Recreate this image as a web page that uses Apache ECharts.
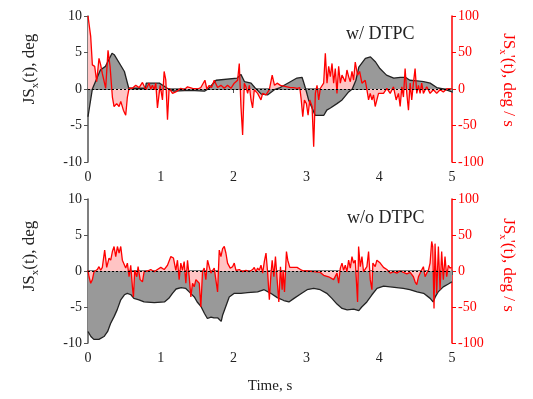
<!DOCTYPE html>
<html><head><meta charset="utf-8">
<script src="https://cdn.jsdelivr.net/npm/echarts@6/dist/echarts.min.js"></script>
<style>html,body{margin:0;padding:0;background:#fff}#c{width:533px;height:399px}</style>
</head><body><div id="c"></div>
<script>
// ---- Top panel (w/ DTPC) ----
const tTopJS = [0,0.06,0.17,0.24,0.33,0.36,0.5,0.56,0.79,0.8,0.98,1.0,1.09,1.18,1.4,1.6,1.65,1.76,2.05,2.1,2.15,2.24,2.29,2.38,2.47,2.56,2.64,2.78,2.87,2.94,2.96,2.99,3.03,3.12,3.24,3.26,3.28,3.33,3.42,3.49,3.53,3.58,3.63,3.68,3.72,3.81,3.88,3.95,4.01,4.1,4.2,4.29,4.36,4.42,4.52,4.61,4.7,4.79,4.88,5.0];
const topJS = [-3.8,0,2.6,3.1,4.9,4.7,2.4,0.1,0.1,0.8,0.8,0.6,0.1,-0.3,-0.2,-0.3,0,1.2,1.5,2.0,1.0,0.8,0.2,-0.7,-0.8,-0.1,0.2,1.0,1.5,1.6,1.0,0,-1.5,-3.6,-3.6,-3.8,-2.9,-2.6,-2.0,-1.5,-1.0,-0.4,0,1.2,3.0,4.2,4.4,3.7,2.8,1.9,1.5,1.6,1.6,1.2,1.1,1.0,0.8,0.2,0,-0.4];
const tTopRate = [0,0.037,0.06,0.092,0.119,0.151,0.174,0.197,0.243,0.275,0.303,0.335,0.358,0.394,0.427,0.45,0.486,0.518,0.541,0.564,0.61,0.656,0.702,0.748,0.794,0.839,0.862,0.885,0.908,0.931,0.954,0.991,1.023,1.046,1.069,1.092,1.115,1.161,1.206,1.275,1.321,1.367,1.436,1.505,1.55,1.606,1.633,1.665,1.697,1.734,1.78,1.826,1.872,1.917,1.963,2.009,2.055,2.078,2.101,2.124,2.147,2.17,2.193,2.216,2.239,2.261,2.284,2.33,2.376,2.399,2.445,2.491,2.53,2.562,2.598,2.644,2.689,2.735,2.781,2.826,2.872,2.909,2.927,2.95,2.973,3.0,3.023,3.046,3.078,3.1,3.123,3.146,3.169,3.192,3.237,3.26,3.283,3.306,3.329,3.352,3.374,3.397,3.42,3.443,3.466,3.489,3.534,3.557,3.58,3.603,3.626,3.648,3.671,3.703,3.731,3.763,3.808,3.831,3.854,3.877,3.9,3.922,3.945,3.968,3.991,4.014,4.059,4.105,4.151,4.196,4.233,4.265,4.288,4.311,4.333,4.356,4.379,4.402,4.425,4.447,4.47,4.493,4.516,4.539,4.562,4.584,4.607,4.653,4.699,4.744,4.79,4.836,4.881,4.927,4.995];
const topRate = [100,72,33,31,10,42,33,21,1,53,31,-11,-24,-20,-24,-17,-29,-36,-11,1,1,5,2,9,-1,8,0,5,-1,8,-26,5,-15,24,12,-42,1,-6,-4,1,-1,3,1,0,2,12,0,5,2,12,2,5,1,5,1,8,12,35,-24,-63,8,3,-6,5,-15,-26,-1,-6,-15,-6,-8,-1,19,5,8,5,4,3,2,2,1,2,-13,-38,-15,-20,-36,-15,-24,-79,-6,5,-15,1,8,49,8,31,17,35,8,28,-6,31,8,19,10,26,17,10,24,12,37,19,24,8,12,-1,-15,-6,-15,-8,-24,-15,-6,-4,-6,1,-6,3,-15,-6,-24,3,-11,28,-6,-29,8,-15,8,28,-6,5,-6,8,-6,3,-6,-1,-6,-1,-4,0,0];

// ---- Bottom panel (w/o DTPC) ----
const tBotJS = [0,0.04,0.08,0.15,0.22,0.27,0.31,0.36,0.4,0.45,0.5,0.54,0.59,0.63,0.7,0.77,0.91,1.05,1.11,1.16,1.21,1.28,1.34,1.39,1.46,1.5,1.55,1.6,1.64,1.69,1.73,1.78,1.83,1.85,1.89,1.94,2.01,2.1,2.19,2.33,2.42,2.51,2.6,2.69,2.76,2.83,2.92,3.01,3.1,3.19,3.28,3.35,3.42,3.49,3.56,3.65,3.72,3.76,3.83,3.9,3.97,4.06,4.15,4.24,4.33,4.42,4.52,4.61,4.7,4.74,4.77,4.81,4.88,4.95,5.0];
const botJS = [-8.4,-9.1,-9.5,-9.5,-9.1,-8.4,-7.3,-6.3,-5.4,-4.0,-3.3,-3.1,-3.3,-3.8,-4.0,-4.3,-4.4,-4.3,-3.8,-3.1,-2.5,-2.3,-2.4,-2.9,-3.6,-4.3,-4.9,-5.9,-6.6,-6.4,-6.5,-6.5,-7.0,-6.1,-5.0,-3.6,-3.1,-3.1,-3.0,-2.9,-2.6,-3.1,-3.7,-4.1,-4.3,-3.8,-3.2,-2.6,-2.4,-2.6,-3.1,-3.8,-4.6,-5.2,-5.4,-5.3,-5.5,-5.0,-4.3,-3.3,-2.4,-2.1,-2.2,-2.3,-2.4,-2.6,-2.9,-3.1,-3.8,-4.3,-3.6,-2.9,-2.2,-1.8,-1.5];
const tBotRate = [0,0.014,0.037,0.06,0.083,0.128,0.151,0.174,0.197,0.229,0.257,0.289,0.312,0.335,0.358,0.381,0.404,0.427,0.45,0.472,0.495,0.518,0.541,0.564,0.587,0.61,0.624,0.642,0.67,0.688,0.716,0.748,0.771,0.817,0.862,0.908,0.954,1.0,1.046,1.092,1.138,1.174,1.206,1.229,1.252,1.275,1.298,1.321,1.344,1.367,1.39,1.413,1.436,1.459,1.482,1.528,1.55,1.573,1.596,1.619,1.642,1.665,1.688,1.734,1.78,1.803,1.826,1.849,1.872,1.894,1.917,1.954,1.986,2.009,2.032,2.078,2.124,2.17,2.216,2.261,2.284,2.307,2.33,2.353,2.376,2.399,2.422,2.445,2.468,2.491,2.514,2.53,2.553,2.575,2.598,2.621,2.644,2.667,2.68,2.699,2.726,2.744,2.772,2.804,2.872,2.918,2.963,3.009,3.1,3.192,3.237,3.306,3.374,3.42,3.443,3.466,3.489,3.511,3.534,3.557,3.58,3.603,3.626,3.648,3.671,3.703,3.717,3.74,3.763,3.785,3.808,3.831,3.854,3.877,3.9,3.913,3.945,3.968,4.014,4.059,4.105,4.151,4.196,4.242,4.288,4.333,4.379,4.425,4.47,4.493,4.516,4.539,4.562,4.584,4.607,4.63,4.653,4.676,4.699,4.721,4.735,4.753,4.767,4.79,4.813,4.836,4.858,4.881,4.904,4.927,4.95,4.973,4.995];
const botRate = [1,-8,-17,-12,-1,2,6,1,5,29,5,18,15,27,34,20,34,25,34,15,13,4,11,-8,8,-22,-36,1,-8,6,-12,-15,-1,0,2,-1,2,5,2,8,20,18,1,15,-12,11,1,13,-17,15,-8,-36,-17,-22,-12,-17,-50,-1,4,-12,15,6,-3,4,-29,29,20,31,34,25,11,4,6,11,1,2,-1,1,-1,2,5,-1,4,1,8,-3,13,25,-3,-40,-3,15,-8,20,-12,-43,6,-26,1,-29,27,15,5,5,5,2,0,0,-1,-2,-6,-8,-12,-3,-17,4,11,1,8,-1,15,4,20,11,15,-43,34,6,20,-1,-3,6,27,-12,-26,11,6,15,11,5,2,-3,-1,-3,0,-2,-4,-2,-8,-15,-19,-8,-3,-1,6,-8,-3,1,11,41,34,-52,38,-31,34,-26,27,-12,20,-8,8,4,5];

const xTicks = [0,1,2,3,4,5];
const panelTitles = ['w/ DTPC', 'w/o DTPC'];

function pairs(t, v) { return t.map((x, i) => [x, v[i]]); }

const FONT = 'Liberation Serif';
const GRAY = '#999999', PINK = '#ffc4c4', RED = '#ff0000', DARK = '#222222', AXIS = '#555555';
const grids = [
  { left: 88, right: 81, top: 16, height: 146 },
  { left: 88, right: 81, top: 199, height: 144 }
];
const leftName = '{m|JS}{s|x}{m|(t), deg}';
const rightName = "{m|JS}{s|x}{m|'(t), deg / s}";
function richFor(color) {
  return {
    m: { fontFamily: FONT, fontSize: 17, color: color, lineHeight: 20, verticalAlign: 'middle' },
    s: { fontFamily: FONT, fontSize: 11, color: color, lineHeight: 20, padding: [10, 0, 0, 0], verticalAlign: 'middle' }
  };
}
function xAxis(i, withName) {
  return {
    type: 'value', gridIndex: i, min: 0, max: 5, interval: 1,
    axisLine: { lineStyle: { color: AXIS, width: 1.5 } },
    axisTick: { show: true, length: 4, lineStyle: { color: AXIS } },
    axisLabel: { fontFamily: FONT, fontSize: 14, color: DARK, margin: 8,
      formatter: v => xTicks.includes(v) ? String(v) : '' },
    splitLine: { show: false },
    name: withName ? 'Time, s' : '', nameLocation: 'middle', nameGap: 36,
    nameTextStyle: { fontFamily: FONT, fontSize: 15, color: DARK }
  };
}
function yLeft(i) {
  return {
    type: 'value', gridIndex: i, min: -10, max: 10, interval: 5, position: 'left',
    axisLine: { show: true, onZero: false, lineStyle: { color: AXIS, width: 1.5 } },
    axisTick: { show: true, length: 4, lineStyle: { color: AXIS } },
    axisLabel: { fontFamily: FONT, fontSize: 14, color: DARK, margin: 6 },
    splitLine: { show: false },
    name: leftName, nameLocation: 'middle', nameRotate: 90, nameGap: 48,
    nameTextStyle: { rich: richFor(DARK), padding: [0, 0, 0, i === 0 ? 40 : 30] }
  };
}
function yRight(i) {
  return {
    type: 'value', gridIndex: i, min: -100, max: 100, interval: 50, position: 'right',
    axisLine: { show: true, onZero: false, lineStyle: { color: RED, width: 1.5 } },
    axisTick: { show: true, length: 4, lineStyle: { color: RED } },
    axisLabel: { fontFamily: FONT, fontSize: 14, color: RED, margin: 6 },
    splitLine: { show: false },
    name: rightName, nameLocation: 'middle', nameRotate: -90, nameGap: 46,
    nameTextStyle: { rich: richFor(RED), padding: [0, i === 0 ? 18 : 12, 0, 0] }
  };
}
function areaSeries(xi, yi, data, color, z) {
  return { type: 'line', xAxisIndex: xi, yAxisIndex: yi, data: data, symbol: 'none', z: z,
    lineStyle: { opacity: 0, width: 0 }, areaStyle: { color: color, opacity: 1 }, silent: true };
}
function lineSeries(xi, yi, data, color, width, z, zeroLine) {
  const s = { type: 'line', xAxisIndex: xi, yAxisIndex: yi, data: data, symbol: 'none', z: z,
    lineStyle: { color: color, width: width }, silent: true };
  if (zeroLine) {
    s.markLine = { silent: true, symbol: 'none', label: { show: false },
      lineStyle: { color: '#000', type: [2, 2], width: 1.2 }, data: [{ yAxis: 0 }] };
  }
  return s;
}
const topJSd = pairs(tTopJS, topJS), topRd = pairs(tTopRate, topRate);
const botJSd = pairs(tBotJS, botJS), botRd = pairs(tBotRate, botRate);

const option = {
  animation: false,
  backgroundColor: '#fff',
  grid: grids,
  xAxis: [xAxis(0, false), xAxis(1, true)],
  yAxis: [yLeft(0), yRight(0), yLeft(1), yRight(1)],
  title: [
    { text: panelTitles[0], left: 341, top: 20, textStyle: { fontFamily: FONT, fontSize: 18, fontWeight: 'normal', color: DARK } },
    { text: panelTitles[1], left: 342, top: 204, textStyle: { fontFamily: FONT, fontSize: 18, fontWeight: 'normal', color: DARK } }
  ],
  series: [
    // top: pink under gray
    areaSeries(0, 1, topRd, PINK, 1),
    areaSeries(0, 0, topJSd, GRAY, 2),
    lineSeries(0, 0, topJSd, DARK, 1.3, 3, false),
    lineSeries(0, 1, topRd, RED, 1.3, 4, true),
    // bottom: gray under pink
    areaSeries(1, 2, botJSd, GRAY, 1),
    areaSeries(1, 3, botRd, PINK, 2),
    lineSeries(1, 2, botJSd, DARK, 1.3, 3, false),
    lineSeries(1, 3, botRd, RED, 1.3, 4, true)
  ]
};
echarts.init(document.getElementById('c'), null, { renderer: 'canvas' }).setOption(option);
</script>
</body></html>
